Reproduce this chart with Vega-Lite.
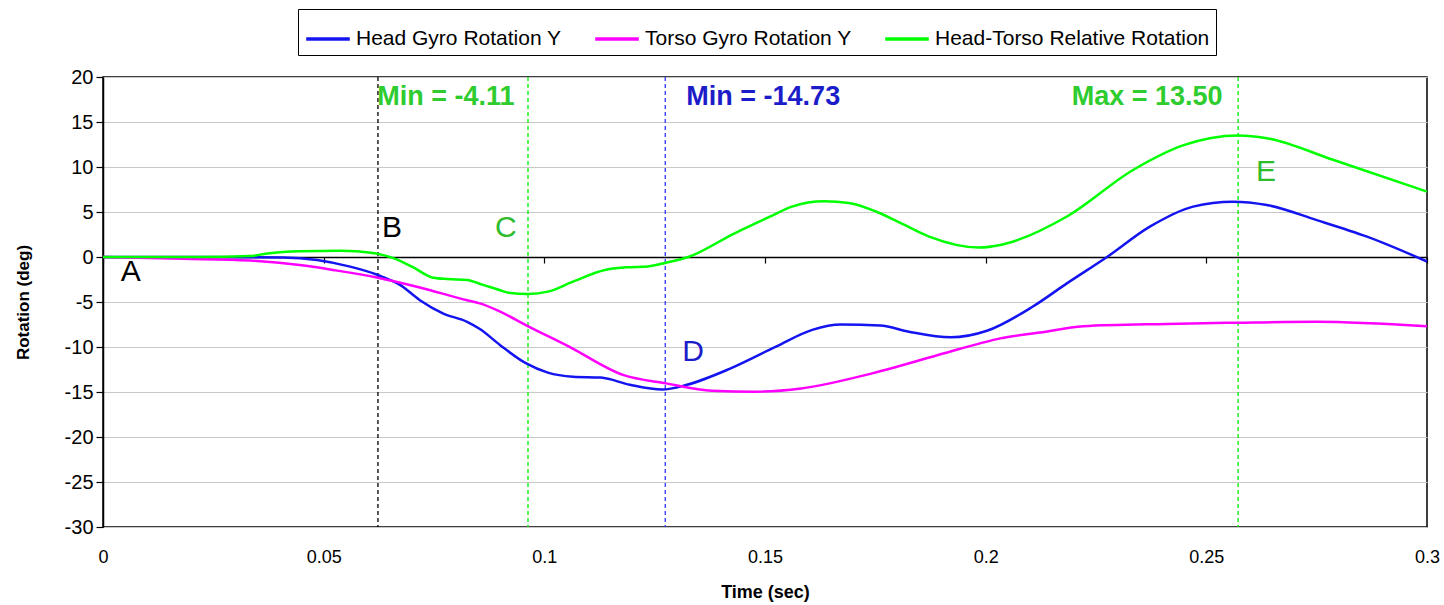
{
  "$schema": "https://vega.github.io/schema/vega-lite/v6.json",
  "width": 1324,
  "height": 450,
  "autosize": {"type": "none"},
  "padding": {"left": 103, "top": 77, "right": 17, "bottom": 78},
  "background": "white",
  "config": {
    "font": "Liberation Sans",
    "view": {"stroke": "black", "strokeWidth": 1.5},
    "axis": {"labelColor": "black", "titleColor": "black", "domainColor": "black", "tickColor": "black", "gridColor": "#c8c8c8", "gridWidth": 1}
  },
  "datasets": {
    "curves": [
      {"series": "Head Gyro Rotation Y", "t": 0, "v": 0},
      {"series": "Head Gyro Rotation Y", "t": 0.022, "v": 0},
      {"series": "Head Gyro Rotation Y", "t": 0.0408, "v": -0.05},
      {"series": "Head Gyro Rotation Y", "t": 0.0485, "v": -0.33},
      {"series": "Head Gyro Rotation Y", "t": 0.056, "v": -1.07},
      {"series": "Head Gyro Rotation Y", "t": 0.0623, "v": -2.0},
      {"series": "Head Gyro Rotation Y", "t": 0.0673, "v": -3.1},
      {"series": "Head Gyro Rotation Y", "t": 0.0718, "v": -4.8},
      {"series": "Head Gyro Rotation Y", "t": 0.077, "v": -6.26},
      {"series": "Head Gyro Rotation Y", "t": 0.0825, "v": -7.2},
      {"series": "Head Gyro Rotation Y", "t": 0.0854, "v": -8.0},
      {"series": "Head Gyro Rotation Y", "t": 0.09, "v": -9.8},
      {"series": "Head Gyro Rotation Y", "t": 0.0958, "v": -11.8},
      {"series": "Head Gyro Rotation Y", "t": 0.1008, "v": -12.85},
      {"series": "Head Gyro Rotation Y", "t": 0.1065, "v": -13.3},
      {"series": "Head Gyro Rotation Y", "t": 0.1128, "v": -13.4},
      {"series": "Head Gyro Rotation Y", "t": 0.1194, "v": -14.2},
      {"series": "Head Gyro Rotation Y", "t": 0.1267, "v": -14.73},
      {"series": "Head Gyro Rotation Y", "t": 0.1323, "v": -14.2},
      {"series": "Head Gyro Rotation Y", "t": 0.1421, "v": -12.4},
      {"series": "Head Gyro Rotation Y", "t": 0.1525, "v": -9.96},
      {"series": "Head Gyro Rotation Y", "t": 0.1607, "v": -8.1},
      {"series": "Head Gyro Rotation Y", "t": 0.1672, "v": -7.5},
      {"series": "Head Gyro Rotation Y", "t": 0.1761, "v": -7.6},
      {"series": "Head Gyro Rotation Y", "t": 0.1826, "v": -8.3},
      {"series": "Head Gyro Rotation Y", "t": 0.1921, "v": -8.93},
      {"series": "Head Gyro Rotation Y", "t": 0.2003, "v": -8.2},
      {"series": "Head Gyro Rotation Y", "t": 0.2107, "v": -5.5},
      {"series": "Head Gyro Rotation Y", "t": 0.2184, "v": -2.93},
      {"series": "Head Gyro Rotation Y", "t": 0.2275, "v": 0},
      {"series": "Head Gyro Rotation Y", "t": 0.2372, "v": 3.37},
      {"series": "Head Gyro Rotation Y", "t": 0.247, "v": 5.6},
      {"series": "Head Gyro Rotation Y", "t": 0.256, "v": 6.15},
      {"series": "Head Gyro Rotation Y", "t": 0.2637, "v": 5.78},
      {"series": "Head Gyro Rotation Y", "t": 0.275, "v": 4.1},
      {"series": "Head Gyro Rotation Y", "t": 0.2864, "v": 2.26},
      {"series": "Head Gyro Rotation Y", "t": 0.3, "v": -0.5},
      {"series": "Torso Gyro Rotation Y", "t": 0, "v": 0},
      {"series": "Torso Gyro Rotation Y", "t": 0.0181, "v": -0.2},
      {"series": "Torso Gyro Rotation Y", "t": 0.0333, "v": -0.4},
      {"series": "Torso Gyro Rotation Y", "t": 0.0446, "v": -0.9},
      {"series": "Torso Gyro Rotation Y", "t": 0.0521, "v": -1.44},
      {"series": "Torso Gyro Rotation Y", "t": 0.0623, "v": -2.3},
      {"series": "Torso Gyro Rotation Y", "t": 0.0711, "v": -3.3},
      {"series": "Torso Gyro Rotation Y", "t": 0.0825, "v": -4.8},
      {"series": "Torso Gyro Rotation Y", "t": 0.0854, "v": -5.15},
      {"series": "Torso Gyro Rotation Y", "t": 0.09, "v": -6.07},
      {"series": "Torso Gyro Rotation Y", "t": 0.0958, "v": -7.56},
      {"series": "Torso Gyro Rotation Y", "t": 0.1056, "v": -9.96},
      {"series": "Torso Gyro Rotation Y", "t": 0.1178, "v": -13.1},
      {"series": "Torso Gyro Rotation Y", "t": 0.1276, "v": -14.04},
      {"series": "Torso Gyro Rotation Y", "t": 0.138, "v": -14.85},
      {"series": "Torso Gyro Rotation Y", "t": 0.1477, "v": -14.96},
      {"series": "Torso Gyro Rotation Y", "t": 0.1582, "v": -14.6},
      {"series": "Torso Gyro Rotation Y", "t": 0.1745, "v": -12.9},
      {"series": "Torso Gyro Rotation Y", "t": 0.1906, "v": -10.7},
      {"series": "Torso Gyro Rotation Y", "t": 0.1987, "v": -9.6},
      {"series": "Torso Gyro Rotation Y", "t": 0.2033, "v": -9.04},
      {"series": "Torso Gyro Rotation Y", "t": 0.2123, "v": -8.4},
      {"series": "Torso Gyro Rotation Y", "t": 0.2221, "v": -7.7},
      {"series": "Torso Gyro Rotation Y", "t": 0.2411, "v": -7.44},
      {"series": "Torso Gyro Rotation Y", "t": 0.2572, "v": -7.3},
      {"series": "Torso Gyro Rotation Y", "t": 0.275, "v": -7.2},
      {"series": "Torso Gyro Rotation Y", "t": 0.3, "v": -7.7},
      {"series": "Head-Torso Relative Rotation", "t": 0, "v": 0},
      {"series": "Head-Torso Relative Rotation", "t": 0.022, "v": 0},
      {"series": "Head-Torso Relative Rotation", "t": 0.0333, "v": 0.1},
      {"series": "Head-Torso Relative Rotation", "t": 0.0372, "v": 0.4},
      {"series": "Head-Torso Relative Rotation", "t": 0.0446, "v": 0.65},
      {"series": "Head-Torso Relative Rotation", "t": 0.0537, "v": 0.7},
      {"series": "Head-Torso Relative Rotation", "t": 0.0582, "v": 0.6},
      {"series": "Head-Torso Relative Rotation", "t": 0.0623, "v": 0.35},
      {"series": "Head-Torso Relative Rotation", "t": 0.0659, "v": -0.15},
      {"series": "Head-Torso Relative Rotation", "t": 0.07, "v": -1.07},
      {"series": "Head-Torso Relative Rotation", "t": 0.0748, "v": -2.3},
      {"series": "Head-Torso Relative Rotation", "t": 0.0782, "v": -2.45},
      {"series": "Head-Torso Relative Rotation", "t": 0.0825, "v": -2.55},
      {"series": "Head-Torso Relative Rotation", "t": 0.0861, "v": -3.1},
      {"series": "Head-Torso Relative Rotation", "t": 0.09, "v": -3.7},
      {"series": "Head-Torso Relative Rotation", "t": 0.0919, "v": -3.96},
      {"series": "Head-Torso Relative Rotation", "t": 0.0963, "v": -4.11},
      {"series": "Head-Torso Relative Rotation", "t": 0.1008, "v": -3.85},
      {"series": "Head-Torso Relative Rotation", "t": 0.1065, "v": -2.74},
      {"series": "Head-Torso Relative Rotation", "t": 0.1137, "v": -1.44},
      {"series": "Head-Torso Relative Rotation", "t": 0.1187, "v": -1.15},
      {"series": "Head-Torso Relative Rotation", "t": 0.1235, "v": -1.05},
      {"series": "Head-Torso Relative Rotation", "t": 0.1276, "v": -0.63},
      {"series": "Head-Torso Relative Rotation", "t": 0.1326, "v": 0},
      {"series": "Head-Torso Relative Rotation", "t": 0.143, "v": 2.6},
      {"series": "Head-Torso Relative Rotation", "t": 0.1511, "v": 4.48},
      {"series": "Head-Torso Relative Rotation", "t": 0.1561, "v": 5.6},
      {"series": "Head-Torso Relative Rotation", "t": 0.1634, "v": 6.2},
      {"series": "Head-Torso Relative Rotation", "t": 0.169, "v": 6.0},
      {"series": "Head-Torso Relative Rotation", "t": 0.1754, "v": 5.0},
      {"series": "Head-Torso Relative Rotation", "t": 0.181, "v": 3.7},
      {"series": "Head-Torso Relative Rotation", "t": 0.1872, "v": 2.26},
      {"series": "Head-Torso Relative Rotation", "t": 0.1985, "v": 1.05},
      {"series": "Head-Torso Relative Rotation", "t": 0.2033, "v": 1.33},
      {"series": "Head-Torso Relative Rotation", "t": 0.2073, "v": 1.9},
      {"series": "Head-Torso Relative Rotation", "t": 0.2184, "v": 4.5},
      {"series": "Head-Torso Relative Rotation", "t": 0.2334, "v": 9.67},
      {"series": "Head-Torso Relative Rotation", "t": 0.2447, "v": 12.4},
      {"series": "Head-Torso Relative Rotation", "t": 0.2572, "v": 13.5},
      {"series": "Head-Torso Relative Rotation", "t": 0.2637, "v": 13.2},
      {"series": "Head-Torso Relative Rotation", "t": 0.2787, "v": 10.8},
      {"series": "Head-Torso Relative Rotation", "t": 0.3, "v": 7.26}
    ],
    "vlines": [
      {"t": 0.0623, "c": "black"},
      {"t": 0.0963, "c": "green"},
      {"t": 0.1274, "c": "blue"},
      {"t": 0.2572, "c": "green"}
    ],
    "notes": [
      {"t": 0.0777, "v": 17.8, "text": "Min = -4.11", "c": "green", "kind": "value"},
      {"t": 0.1496, "v": 17.8, "text": "Min = -14.73", "c": "blue", "kind": "value"},
      {"t": 0.2366, "v": 17.8, "text": "Max = 13.50", "c": "green", "kind": "value"},
      {"t": 0.0063, "v": -1.7, "text": "A", "c": "black", "kind": "point"},
      {"t": 0.0655, "v": 3.2, "text": "B", "c": "black", "kind": "point"},
      {"t": 0.0913, "v": 3.2, "text": "C", "c": "green", "kind": "point"},
      {"t": 0.1337, "v": -10.6, "text": "D", "c": "blue", "kind": "point"},
      {"t": 0.2635, "v": 9.4, "text": "E", "c": "green", "kind": "point"}
    ]
  },
  "layer": [
    {
      "data": {"name": "vlines"},
      "transform": [{"filter": "datum.c == 'black'"}],
      "mark": {"type": "rule", "color": "black", "strokeWidth": 1.3, "strokeDash": [4, 3]},
      "encoding": {
        "x": {"field": "t", "type": "quantitative", "scale": {"domain": [0, 0.3], "nice": false},
          "axis": {"orient": "bottom", "offset": -270, "labels": false, "ticks": true, "tickSize": 6, "tickWidth": 1.2, "domain": true, "domainWidth": 1.5, "grid": false, "title": null, "values": [0, 0.05, 0.1, 0.15, 0.2, 0.25, 0.3]}}
      }
    },
    {
      "data": {"name": "vlines"},
      "transform": [{"filter": "datum.c == 'green'"}],
      "mark": {"type": "rule", "color": "#00ee00", "strokeWidth": 1.3, "strokeDash": [4, 3]},
      "encoding": {
        "x": {"field": "t", "type": "quantitative", "scale": {"domain": [0, 0.3], "nice": false}, "axis": null}
      }
    },
    {
      "data": {"name": "vlines"},
      "transform": [{"filter": "datum.c == 'blue'"}],
      "mark": {"type": "rule", "color": "#3333ff", "strokeWidth": 1.3, "strokeDash": [4, 3]},
      "encoding": {
        "x": {"field": "t", "type": "quantitative", "scale": {"domain": [0, 0.3], "nice": false}, "axis": null}
      }
    },
    {
      "data": {"name": "curves"},
      "mark": {"type": "line", "strokeWidth": 2.5, "interpolate": "monotone"},
      "encoding": {
        "x": {"field": "t", "type": "quantitative", "scale": {"domain": [0, 0.3], "nice": false},
          "axis": {"orient": "bottom", "values": [0, 0.05, 0.1, 0.15, 0.2, 0.25, 0.3], "format": "~g", "labelFlush": false, "ticks": false, "tickSize": 0, "domain": false, "grid": false, "labelFontSize": 18, "labelPadding": 21, "title": "Time (sec)", "titleFontSize": 18, "titleFontWeight": "bold", "titlePadding": 17}},
        "y": {"field": "v", "type": "quantitative", "scale": {"domain": [-30, 20], "nice": false},
          "axis": {"values": [-30, -25, -20, -15, -10, -5, 0, 5, 10, 15, 20], "labelExpr": "'' + datum.value", "tickSize": 7, "tickWidth": 1.2, "domainWidth": 1.5, "labelFontSize": 20, "labelPadding": 3, "grid": true, "title": "Rotation (deg)", "titleFontSize": 17, "titleFontWeight": "bold", "titlePadding": 32}},
        "color": {"field": "series", "type": "nominal",
          "scale": {"domain": ["Head Gyro Rotation Y", "Torso Gyro Rotation Y", "Head-Torso Relative Rotation"], "range": ["#1414f0", "#ff00ff", "#00ff00"]},
          "legend": {"orient": "none", "legendX": 195, "legendY": -68, "direction": "horizontal", "title": null, "symbolType": "stroke", "symbolStrokeWidth": 3.5, "symbolSize": 1900, "labelFontSize": 21, "labelLimit": 500, "labelColor": "black", "strokeColor": "black", "fillColor": "white", "padding": 6, "columnPadding": 26, "labelOffset": 4}},
        "order": {"field": "t", "type": "quantitative"}
      }
    },
    {
      "data": {"name": "notes"},
      "transform": [{"filter": "datum.kind == 'value' && datum.c == 'green'"}],
      "mark": {"type": "text", "fontSize": 27, "fontWeight": "bold", "color": "#2ecc2e", "align": "center", "baseline": "middle"},
      "encoding": {
        "x": {"field": "t", "type": "quantitative", "scale": {"domain": [0, 0.3], "nice": false}, "axis": null},
        "y": {"field": "v", "type": "quantitative", "scale": {"domain": [-30, 20], "nice": false}, "axis": null},
        "text": {"field": "text"}
      }
    },
    {
      "data": {"name": "notes"},
      "transform": [{"filter": "datum.kind == 'value' && datum.c == 'blue'"}],
      "mark": {"type": "text", "fontSize": 27, "fontWeight": "bold", "color": "#1c1cc8", "align": "center", "baseline": "middle"},
      "encoding": {
        "x": {"field": "t", "type": "quantitative", "scale": {"domain": [0, 0.3], "nice": false}, "axis": null},
        "y": {"field": "v", "type": "quantitative", "scale": {"domain": [-30, 20], "nice": false}, "axis": null},
        "text": {"field": "text"}
      }
    },
    {
      "data": {"name": "notes"},
      "transform": [{"filter": "datum.kind == 'point' && datum.c == 'black'"}],
      "mark": {"type": "text", "fontSize": 30, "color": "black", "align": "center", "baseline": "middle"},
      "encoding": {
        "x": {"field": "t", "type": "quantitative", "scale": {"domain": [0, 0.3], "nice": false}, "axis": null},
        "y": {"field": "v", "type": "quantitative", "scale": {"domain": [-30, 20], "nice": false}, "axis": null},
        "text": {"field": "text"}
      }
    },
    {
      "data": {"name": "notes"},
      "transform": [{"filter": "datum.kind == 'point' && datum.c == 'green'"}],
      "mark": {"type": "text", "fontSize": 30, "color": "#2ebb2e", "align": "center", "baseline": "middle"},
      "encoding": {
        "x": {"field": "t", "type": "quantitative", "scale": {"domain": [0, 0.3], "nice": false}, "axis": null},
        "y": {"field": "v", "type": "quantitative", "scale": {"domain": [-30, 20], "nice": false}, "axis": null},
        "text": {"field": "text"}
      }
    },
    {
      "data": {"name": "notes"},
      "transform": [{"filter": "datum.kind == 'point' && datum.c == 'blue'"}],
      "mark": {"type": "text", "fontSize": 30, "color": "#1c1cc8", "align": "center", "baseline": "middle"},
      "encoding": {
        "x": {"field": "t", "type": "quantitative", "scale": {"domain": [0, 0.3], "nice": false}, "axis": null},
        "y": {"field": "v", "type": "quantitative", "scale": {"domain": [-30, 20], "nice": false}, "axis": null},
        "text": {"field": "text"}
      }
    }
  ],
  "resolve": {"axis": {"x": "independent", "y": "independent"}}
}
